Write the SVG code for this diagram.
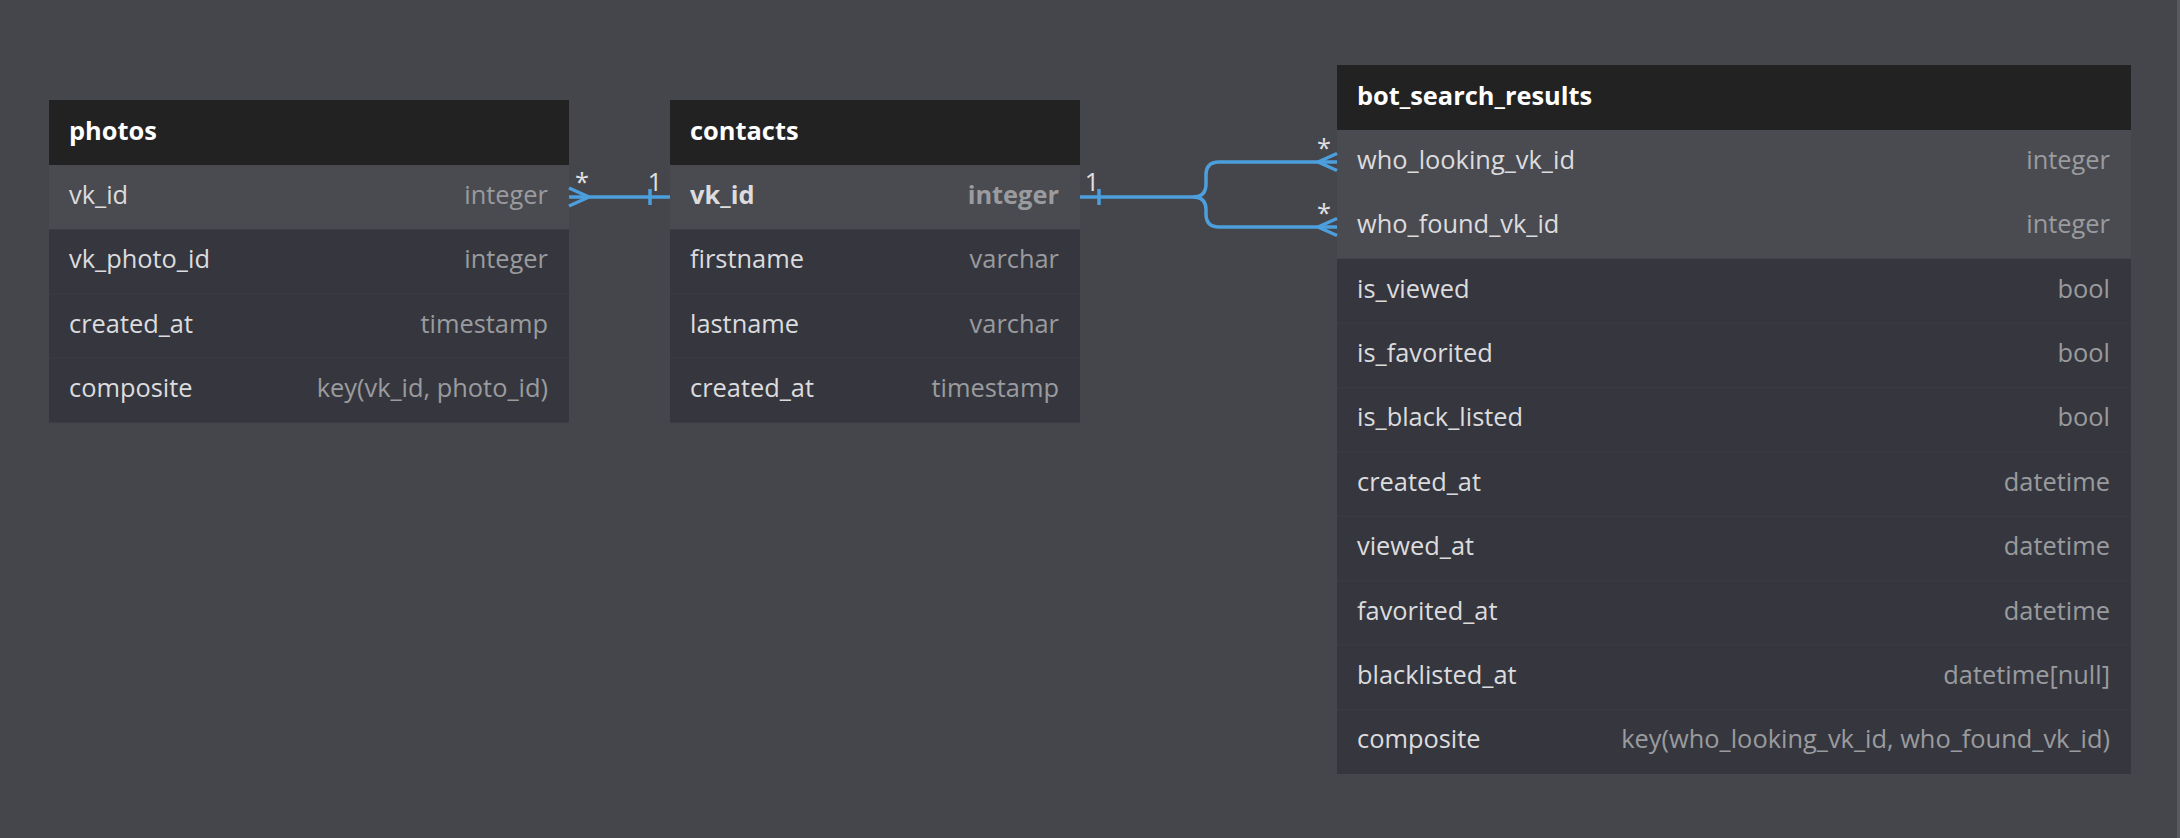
<svg xmlns="http://www.w3.org/2000/svg" width="2180" height="838" viewBox="0 0 2180 838">
<defs>
<style>
.bg{fill:#45464b}
.hdr{fill:#222223}
.key{fill:#4a4b51}
.row{fill:#36373e}
.sep{stroke:#3a3b42;stroke-width:1.2}
.title{font-family:"Open Sans","Noto Sans",sans-serif;font-size:25.4px;font-weight:700;fill:#ffffff}
.name{font-family:"Open Sans","Noto Sans",sans-serif;font-size:25.4px;fill:#dcdcde}
.type{font-family:"Open Sans","Noto Sans",sans-serif;font-size:25.4px;fill:#9a9b9f;text-anchor:end}
.b{font-weight:700}
.conn{fill:none;stroke:#4c9fdc;stroke-width:3.5;stroke-linecap:butt;stroke-linejoin:round}
.lbl{font-family:"Open Sans","Noto Sans",sans-serif;font-size:25.4px;fill:#e0e0e2;text-anchor:middle}
</style>
</defs>
<rect class="bg" x="0" y="0" width="2180" height="838"/>
<rect x="2177" y="0" width="3" height="838" fill="#595a5f"/>

<g id="photos">
<rect class="hdr" x="49" y="100" width="520" height="65"/>
<text class="title" x="69" y="140">photos</text>
<rect class="key" x="49" y="165" width="520" height="64.4"/>
<rect class="row" x="49" y="229.4" width="520" height="193.2"/>
<line class="sep" x1="49" y1="293.8" x2="569" y2="293.8"/>
<line class="sep" x1="49" y1="358.2" x2="569" y2="358.2"/>
<text class="name" x="69" y="203.8">vk_id</text><text class="type" x="548" y="203.8">integer</text>
<text class="name" x="69" y="268.2">vk_photo_id</text><text class="type" x="548" y="268.2">integer</text>
<text class="name" x="69" y="332.6">created_at</text><text class="type" x="548" y="332.6">timestamp</text>
<text class="name" x="69" y="397">composite</text><text class="type" x="548" y="397">key(vk_id, photo_id)</text>
</g>

<g id="contacts">
<rect class="hdr" x="670" y="100" width="410" height="65"/>
<text class="title" x="690" y="140">contacts</text>
<rect class="key" x="670" y="165" width="410" height="64.4"/>
<rect class="row" x="670" y="229.4" width="410" height="193.2"/>
<line class="sep" x1="670" y1="293.8" x2="1080" y2="293.8"/>
<line class="sep" x1="670" y1="358.2" x2="1080" y2="358.2"/>
<text class="name b" x="690" y="203.8">vk_id</text><text class="type b" x="1059" y="203.8">integer</text>
<text class="name" x="690" y="268.2">firstname</text><text class="type" x="1059" y="268.2">varchar</text>
<text class="name" x="690" y="332.6">lastname</text><text class="type" x="1059" y="332.6">varchar</text>
<text class="name" x="690" y="397">created_at</text><text class="type" x="1059" y="397">timestamp</text>
</g>

<g id="bot_search_results">
<rect class="hdr" x="1337" y="65" width="794" height="65"/>
<text class="title" x="1357" y="105">bot_search_results</text>
<rect class="key" x="1337" y="130" width="794" height="128.8"/>
<rect class="row" x="1337" y="258.8" width="794" height="515.2"/>
<line class="sep" x1="1337" y1="323.2" x2="2131" y2="323.2"/>
<line class="sep" x1="1337" y1="387.6" x2="2131" y2="387.6"/>
<line class="sep" x1="1337" y1="452" x2="2131" y2="452"/>
<line class="sep" x1="1337" y1="516.4" x2="2131" y2="516.4"/>
<line class="sep" x1="1337" y1="580.8" x2="2131" y2="580.8"/>
<line class="sep" x1="1337" y1="645.2" x2="2131" y2="645.2"/>
<line class="sep" x1="1337" y1="709.6" x2="2131" y2="709.6"/>
<text class="name" x="1357" y="168.8">who_looking_vk_id</text><text class="type" x="2110" y="168.8">integer</text>
<text class="name" x="1357" y="233.2">who_found_vk_id</text><text class="type" x="2110" y="233.2">integer</text>
<text class="name" x="1357" y="297.6">is_viewed</text><text class="type" x="2110" y="297.6">bool</text>
<text class="name" x="1357" y="362">is_favorited</text><text class="type" x="2110" y="362">bool</text>
<text class="name" x="1357" y="426.4">is_black_listed</text><text class="type" x="2110" y="426.4">bool</text>
<text class="name" x="1357" y="490.8">created_at</text><text class="type" x="2110" y="490.8">datetime</text>
<text class="name" x="1357" y="555.2">viewed_at</text><text class="type" x="2110" y="555.2">datetime</text>
<text class="name" x="1357" y="619.6">favorited_at</text><text class="type" x="2110" y="619.6">datetime</text>
<text class="name" x="1357" y="684">blacklisted_at</text><text class="type" x="2110" y="684">datetime[null]</text>
<text class="name" x="1357" y="748.4">composite</text><text class="type" x="2110" y="748.4">key(who_looking_vk_id, who_found_vk_id)</text>
</g>

<g id="connectors">
<path class="conn" d="M569 197 H670"/>
<path class="conn" d="M569 188 L589 197 L569 206"/>
<path class="conn" d="M650 189 V205"/>
<text class="lbl" x="582" y="191">*</text>
<text class="lbl" x="655" y="191">1</text>

<path class="conn" d="M1080 197 H1193 Q1206 197 1206 184 V175 Q1206 162 1219 162 H1337"/>
<path class="conn" d="M1193 197 Q1206 197 1206 210 V214 Q1206 227 1219 227 H1337"/>
<path class="conn" d="M1099 189 V205"/>
<path class="conn" d="M1337 153.5 L1318 162 L1337 170.5"/>
<path class="conn" d="M1337 218.5 L1318 227 L1337 235.5"/>
<text class="lbl" x="1092" y="191">1</text>
<text class="lbl" x="1324" y="157">*</text>
<text class="lbl" x="1324" y="222">*</text>
</g>
</svg>
